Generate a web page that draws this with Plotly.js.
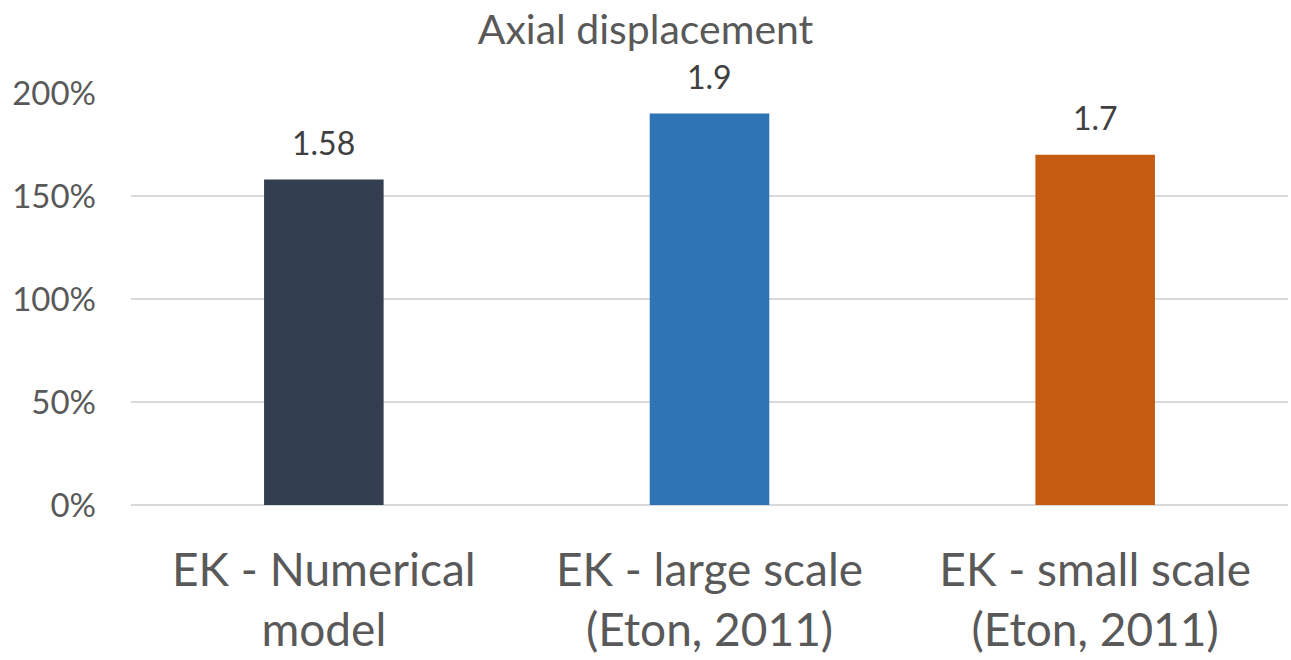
<!DOCTYPE html>
<html><head><meta charset="utf-8">
<script src="https://cdn.plot.ly/plotly-3.0.1.min.js"></script>
<style>html,body{margin:0;padding:0;background:#fff;}#chart{width:1291px;height:660px;}</style>
</head><body><div id="chart"></div>
<script>
const categories = ["EK - Numerical<br>model", "EK - large scale<br>(Eton, 2011)", "EK - small scale<br>(Eton, 2011)"];
const values = [1.58, 1.9, 1.7];
const labels = ["1.58", "1.9", "1.7"];
const colors = ["#333F50", "#2E75B6", "#C55A11"];
const yTicks = [0, 0.5, 1, 1.5, 2];
const yTickText = ["0%", "50%", "100%", "150%", "200%"];

const font = "Lato, 'Open Sans', sans-serif";
const annotations = categories.map((c, i) => ({
  x: c, y: values[i], xref: "x", yref: "y", text: labels[i], showarrow: false,
  xanchor: "center", yanchor: "bottom", yshift: 16,
  font: {family: font, size: 32, color: "#404040"}
}));
Plotly.newPlot("chart", [{
  type: "bar",
  x: categories,
  y: values,
  marker: {color: colors},
  cliponaxis: false,
  hoverinfo: "skip"
}], {
  width: 1291, height: 660,
  margin: {l: 131, r: 3, t: 93, b: 155},
  paper_bgcolor: "#fff", plot_bgcolor: "#fff",
  bargap: 0.69,
  showlegend: false,
  annotations: annotations,
  title: {text: "Axial displacement", x: 0.5, xanchor: "center", y: 0.955, yanchor: "middle",
          font: {family: font, size: 41, color: "#595959"}},
  xaxis: {tickfont: {family: font, size: 46, color: "#595959"}, showgrid: false, showline: false,
          ticks: "", ticklabelstandoff: 34, fixedrange: true},
  yaxis: {range: [0, 2], autorange: false, tickvals: yTicks, ticktext: yTickText,
          tickfont: {family: font, size: 33, color: "#595959"},
          gridcolor: "#D9D9D9", gridwidth: 2, zeroline: true, zerolinecolor: "#D9D9D9", zerolinewidth: 2,
          showline: false, ticks: "", ticklabelstandoff: 34, fixedrange: true}
}, {displayModeBar: false, staticPlot: true});
</script></body></html>
